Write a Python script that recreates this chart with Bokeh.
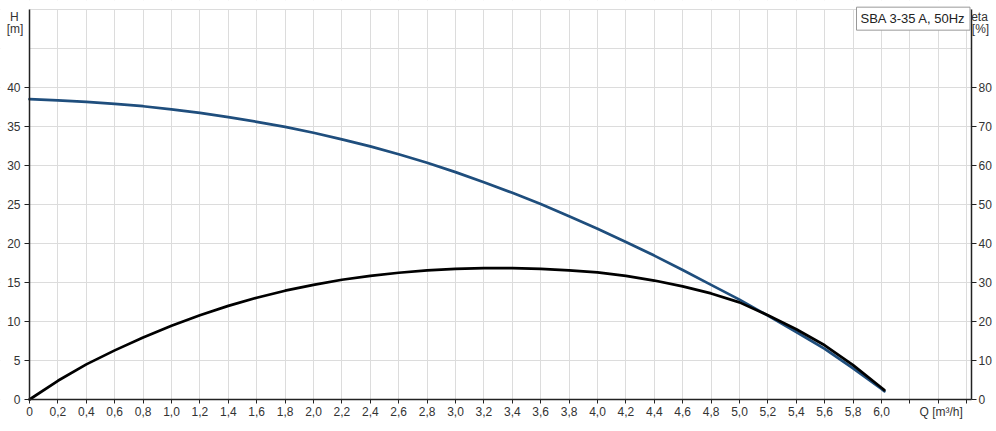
from bokeh.plotting import figure
from bokeh.models import Range1d, LinearAxis, FixedTicker, Label, BoxAnnotation
from bokeh.embed import file_html
from bokeh.resources import INLINE

# ---- data ----
q_head = [0.0, 0.2, 0.4, 0.6, 0.8, 1.0, 1.2, 1.4, 1.6, 1.8, 2.0, 2.2, 2.4, 2.6, 2.8, 3.0,
          3.2, 3.4, 3.6, 3.8, 4.0, 4.2, 4.4, 4.6, 4.8, 5.0, 5.2, 5.4, 5.6, 5.8, 6.0, 6.02]
head = [38.5, 38.35, 38.15, 37.9, 37.6, 37.2, 36.75, 36.2, 35.6, 34.95, 34.2, 33.35, 32.45,
        31.45, 30.35, 29.15, 27.85, 26.5, 25.05, 23.5, 21.9, 20.2, 18.45, 16.6, 14.7, 12.8,
        10.75, 8.65, 6.5, 4.0, 1.35, 1.05]

q_eta = [0.0, 0.2, 0.4, 0.6, 0.8, 1.0, 1.2, 1.4, 1.6, 1.8, 2.0, 2.2, 2.4, 2.6, 2.8, 3.0,
         3.2, 3.4, 3.6, 3.8, 4.0, 4.2, 4.4, 4.6, 4.8, 5.0, 5.2, 5.4, 5.6, 5.8, 6.0, 6.02]
eta = [0.0, 4.8, 9.0, 12.6, 15.9, 18.9, 21.6, 24.0, 26.1, 27.9, 29.4, 30.7, 31.7, 32.5,
       33.1, 33.5, 33.7, 33.7, 33.5, 33.1, 32.6, 31.7, 30.5, 29.0, 27.2, 24.9, 21.6, 18.0,
       13.9, 8.8, 3.0, 2.4]

x_ticks = [0.0, 0.2, 0.4, 0.6, 0.8, 1.0, 1.2, 1.4, 1.6, 1.8, 2.0, 2.2, 2.4, 2.6, 2.8, 3.0,
           3.2, 3.4, 3.6, 3.8, 4.0, 4.2, 4.4, 4.6, 4.8, 5.0, 5.2, 5.4, 5.6, 5.8, 6.0,
           6.2, 6.4, 6.6]
x_tick_labels = ["0", "0,2", "0,4", "0,6", "0,8", "1,0", "1,2", "1,4", "1,6", "1,8", "2,0",
                 "2,2", "2,4", "2,6", "2,8", "3,0", "3,2", "3,4", "3,6", "3,8", "4,0", "4,2",
                 "4,4", "4,6", "4,8", "5,0", "5,2", "5,4", "5,6", "5,8", "6,0", "", "", ""]
h_ticks = [0, 5, 10, 15, 20, 25, 30, 35, 40]
h_grid = [0, 5, 10, 15, 20, 25, 30, 35, 40, 45, 50]
eta_ticks = [0, 10, 20, 30, 40, 50, 60, 70, 80]

title_text = "SBA 3-35 A, 50Hz"

# plot area extents (data units)
Q_MAX = 6.634
H_MAX = 50.0
ETA_MAX = 100.0

FONT = "Liberation Sans"
TXT = "#333333"

W, H = 996, 431
PX_X = 142.0   # pixels per m3/h
PX_Y = 7.8     # pixels per m
X0, Y0 = 29, 399  # pixel position of the origin inside the canvas
x_lo = -X0 / PX_X
x_hi = (W - X0) / PX_X
y_lo = -(H - Y0) / PX_Y
y_hi = Y0 / PX_Y

p = figure(width=W, height=H, output_backend="svg", toolbar_location=None,
           x_range=Range1d(x_lo, x_hi), y_range=Range1d(y_lo, y_hi),
           min_border_left=0, min_border_right=0, min_border_top=0, min_border_bottom=0)
p.outline_line_color = None
p.background_fill_color = "white"
p.border_fill_color = "white"
p.extra_y_ranges = {"eta": Range1d(y_lo * 2, y_hi * 2)}

# grid
p.xgrid.ticker = FixedTicker(ticks=x_ticks)
p.ygrid.ticker = FixedTicker(ticks=h_grid)
p.xgrid.grid_line_color = "#dcdcdc"
p.ygrid.grid_line_color = "#dcdcdc"

# mask grid outside plot area
for kw in (dict(right=0), dict(left=Q_MAX), dict(top=0), dict(bottom=H_MAX + 0.07)):
    p.add_layout(BoxAnnotation(fill_color="white", fill_alpha=1, line_color=None,
                               level="underlay", **kw))

# axes
xa = p.xaxis[0]
xa.ticker = FixedTicker(ticks=x_ticks)
xa.major_label_overrides = {t: l for t, l in zip(x_ticks, x_tick_labels)}
xa.fixed_location = 0
xa.bounds = (0, Q_MAX)
ya = p.yaxis[0]
ya.ticker = FixedTicker(ticks=h_ticks)
ya.fixed_location = 0
ya.bounds = (0, H_MAX)

ra = LinearAxis(y_range_name="eta", ticker=FixedTicker(ticks=eta_ticks))
ra.fixed_location = Q_MAX
ra.bounds = (0, ETA_MAX)
p.add_layout(ra, "right")

for ax in (xa, ya, ra):
    ax.axis_line_color = "#222222"
    ax.axis_line_width = 1.5
    ax.major_tick_line_color = "#222222"
    ax.major_tick_in = 0
    ax.major_tick_out = 5
    ax.minor_tick_line_color = None
    ax.major_label_text_font = FONT
    ax.major_label_text_font_size = "12px"
    ax.major_label_text_color = TXT
xa.major_tick_out = 4
xa.major_label_standoff = 3
ya.major_label_standoff = 4
ra.major_label_standoff = 2

# curves
p.line(q_head, head, line_color="#1f4e7d", line_width=2.7, line_cap="round")
p.line(q_eta, eta, y_range_name="eta", line_color="black", line_width=2.7, line_cap="round")

# axis titles
def lab(x, y, t):
    p.add_layout(Label(x=x, y=y, text=t, text_font=FONT, text_font_size="12px",
                       text_color=TXT, text_align="center", text_baseline="middle"))

lab(-0.106, 49.1, "H")
lab(-0.102, 47.44, "[m]")
lab(6.69, 49.1, "eta")
lab(6.697, 47.44, "[%]")
lab(6.42, -1.62, "Q [m³/h]")

p.add_layout(Label(x=5.824, y=H_MAX + 0.3, text=title_text, text_font=FONT,
                   text_font_size="13px", text_color="#222222", text_align="left",
                   text_baseline="top", border_line_color="#999999",
                   background_fill_color="white", padding=4, level="overlay"))

open("out.html", "w").write(file_html(p, INLINE))
